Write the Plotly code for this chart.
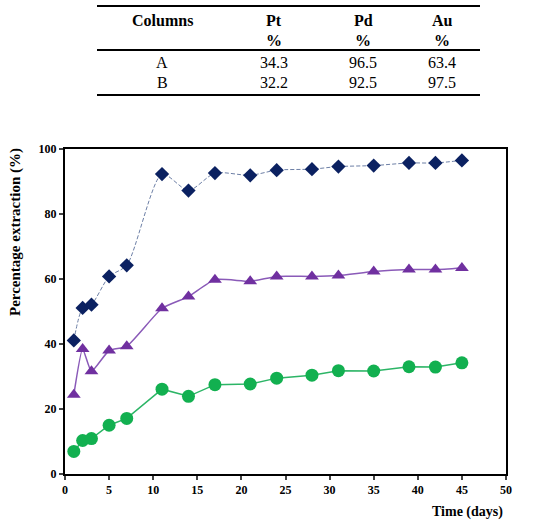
import plotly.graph_objects as go

days = [1, 2, 3, 5, 7, 11, 14, 17, 21, 24, 28, 31, 35, 39, 42, 45]
pd_vals = [41.1, 51.1, 52.1, 60.8, 64.2, 92.3, 87.2, 92.6, 91.9, 93.5, 93.8, 94.6, 94.9, 95.7, 95.7, 96.5]
au_vals = [24.4, 38.5, 31.6, 38.0, 39.3, 51.0, 54.6, 59.8, 59.3, 60.8, 60.8, 61.1, 62.3, 62.9, 62.9, 63.4]
pt_vals = [6.95, 10.3, 10.9, 15.0, 17.1, 26.1, 23.9, 27.5, 27.7, 29.5, 30.4, 31.8, 31.7, 33.0, 32.9, 34.2]

x_ticks = [0, 5, 10, 15, 20, 25, 30, 35, 40, 45, 50]
y_ticks = [0, 20, 40, 60, 80, 100]

table_header = ["Columns", "Pt<br>%", "Pd<br>%", "Au<br>%"]
table_rows = [["A", "34.3", "96.5", "63.4"], ["B", "32.2", "92.5", "97.5"]]

W, H = 542, 532
ML, MR, MT, MB = 65, 36, 149, 58
PW, PH = W - ML - MR, H - MT - MB

def px(x):
    return (x - ML) / PW

def py(y):
    return (H - MB - y) / PH

FONT = "Liberation Serif, Times New Roman, serif"

fig = go.Figure()
fig.add_trace(go.Scatter(
    x=days, y=pd_vals, mode="lines+markers", name="Pd",
    line=dict(color="#6d7fa6", width=1, shape="spline", smoothing=0.7, dash="4px,2px"),
    marker=dict(symbol="diamond", size=11, color="#0b2161"),
))
fig.add_trace(go.Scatter(
    x=days, y=au_vals, mode="lines+markers", name="Au",
    line=dict(color="#8a5ab8", width=1.5, shape="spline", smoothing=0.5),
    marker=dict(symbol="triangle-up", size=12, color="#7030a0"),
))
fig.add_trace(go.Scatter(
    x=days, y=pt_vals, mode="lines+markers", name="Pt",
    line=dict(color="#2cb566", width=1.5),
    marker=dict(symbol="circle", size=13, color="#12b050"),
))

fig.update_layout(
    width=W, height=H,
    margin=dict(l=ML, r=MR, t=MT, b=MB),
    paper_bgcolor="white", plot_bgcolor="white",
    showlegend=False,
    font=dict(family=FONT, color="black"),
)
fig.update_xaxes(
    range=[0, 50], tickvals=x_ticks, ticks="outside", ticklen=4, tickwidth=1.5,
    showline=True, linecolor="black", linewidth=2, mirror=True, showgrid=False, zeroline=False,
    tickfont=dict(family=FONT, size=12, weight="bold"),
)
fig.update_yaxes(
    range=[0, 100], tickvals=y_ticks, ticks="outside", ticklen=4, tickwidth=1.5,
    showline=True, linecolor="black", linewidth=2, mirror=True, showgrid=False, zeroline=False,
    tickfont=dict(family=FONT, size=12, weight="bold"),
)

def label(text, x, y, size, angle=0):
    fig.add_annotation(text=text, xref="paper", yref="paper", x=px(x), y=py(y),
                       xanchor="center", yanchor="middle", textangle=angle,
                       showarrow=False, font=dict(family=FONT, size=size))

# axis titles
label("<b>Percentage extraction (%)</b>", 15, 232, 15, -90)
label("<b>Time (days)</b>", 467, 512, 14)

# table
for yl in [6, 50, 95]:
    fig.add_shape(type="line", xref="paper", yref="paper",
                  x0=px(97), x1=px(480), y0=py(yl), y1=py(yl),
                  line=dict(color="black", width=2))
col_x = [162, 274, 363, 442]
for cx, h in zip(col_x, table_header):
    lines = h.split("<br>")
    label("<b>%s</b>" % lines[0], cx, 20, 16)
    if len(lines) > 1:
        label("<b>%s</b>" % lines[1], cx, 41, 16)
for ry, row in zip([63, 82], table_rows):
    for cx, v in zip(col_x, row):
        label(v, cx, ry, 16)

fig.write_html("out.html")
